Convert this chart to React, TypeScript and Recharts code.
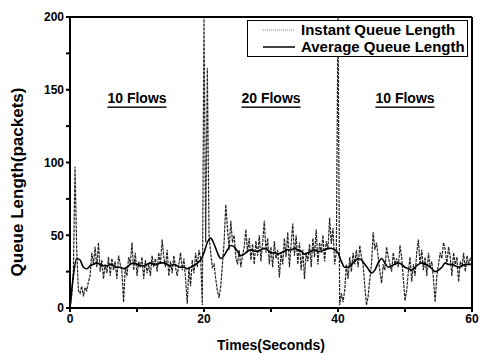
import React from 'react';
import { LineChart, Line, XAxis, YAxis, ReferenceLine, ReferenceDot } from 'recharts';

const INSTANT_STEP = 0.25;
const AVERAGE_STEP = 0.5;

const instantValues: number[] = [
  0, 8, 25, 97,
  40, 12, 10, 15,
  8, 14, 12, 18,
  22, 38, 30, 42,
  28, 45, 25, 33,
  20, 30, 24, 35,
  22, 34, 26, 32,
  20, 36, 30, 25,
  4, 28, 22, 35,
  30, 45, 26, 38,
  22, 32, 28, 35,
  20, 33, 24, 30,
  22, 36, 28, 34,
  25, 38, 30, 47,
  35, 28, 40, 22,
  32, 24, 36, 28,
  22, 30, 38, 26,
  34, 20, 3, 28,
  15, 33, 24, 38,
  28, 40, 34, 2,
  200, 45, 165, 50,
  38, 28, 30, 20,
  12, 7, 15, 30,
  45, 71, 55, 40,
  60, 45, 50, 35,
  30, 40, 28, 36,
  42, 54, 38, 48,
  33, 44, 30, 46,
  36, 50, 32, 45,
  60, 38, 48, 30,
  42, 28, 46, 34,
  40, 21, 38, 30,
  48, 35, 52, 28,
  44, 58, 36, 50,
  30, 45, 26, 40,
  20, 38, 32, 44,
  28, 48, 35, 54,
  30, 45, 38, 50,
  32, 46, 40, 62,
  44, 55, 30, 38,
  200, 2, 10, 4,
  12, 30, 20, 35,
  25, 38, 30, 40,
  28, 43, 35, 30,
  15, 2, 8, 20,
  30, 52, 40, 45,
  35, 25, 17, 30,
  26, 42, 35, 30,
  25, 38, 30, 34,
  28, 43, 35, 20,
  5, 12, 25, 35,
  18, 30, 22, 38,
  47, 30, 40, 26,
  35, 22, 38, 28,
  32, 20, 4, 22,
  30, 38, 34, 45,
  40, 30, 42, 35,
  22, 38, 30, 35,
  18, 32, 28, 38,
  25, 36, 30, 34,
  32,
];

const averageValues: number[] = [
  0, 22, 34, 33, 28, 27, 29, 30, 31, 30,
  29, 29, 30, 29, 28, 28, 27, 28, 30, 31,
  30, 29, 29, 30, 31, 30, 30, 31, 31, 30,
  29, 30, 29, 28, 28, 27, 28, 29, 31, 33,
  38, 45, 48, 44, 38, 34, 36, 40, 43, 42,
  39, 36, 37, 39, 40, 39, 39, 40, 41, 40,
  38, 38, 37, 38, 39, 40, 40, 41, 40, 39,
  37, 38, 39, 40, 39, 39, 40, 41, 41, 40,
  38, 32, 28, 28, 30, 32, 34, 33, 30, 27,
  24, 26, 31, 34, 31, 28, 29, 30, 31, 30,
  28, 27, 26, 28, 30, 31, 30, 29, 27, 25,
  26, 28, 31, 30, 30, 29, 28, 29, 30, 30,
  30,
];

const xTicks = [0, 10, 20, 30, 40, 50, 60];
const xTickLabels = ['0', '', '20', '', '40', '', '60'];
const yTicks = [0, 25, 50, 75, 100, 125, 150, 175, 200];
const yTickLabels = ['0', '', '50', '', '100', '', '150', '', '200'];

const annotations = [
  { t: 10, q: 144, text: '10 Flows' },
  { t: 30, q: 144, text: '20 Flows' },
  { t: 50, q: 144, text: '10 Flows' },
];

const seriesNames = ['Instant Queue Length', 'Average Queue Length'];
const xTitle = 'Times(Seconds)';
const yTitle = 'Queue Length(packets)';

const instantData = instantValues.map((v, i) => ({ t: i * INSTANT_STEP, q: v }));
const averageData = averageValues.map((v, i) => ({ t: i * AVERAGE_STEP, q: v }));

const FONT = '"Liberation Sans", Arial, sans-serif';

const FlowLabel = (props: any) => {
  const { viewBox, value } = props;
  const cx = viewBox.x + (viewBox.width || 0) / 2;
  const cy = viewBox.y + (viewBox.height || 0) / 2;
  return (
    <text
      x={cx}
      y={cy}
      textAnchor="middle"
      dominantBaseline="central"
      fontSize={14}
      fontWeight="bold"
      fill="#000"
      style={{ textDecoration: 'underline', fontFamily: FONT }}
    >
      {value}
    </text>
  );
};

const XTitle = (props: any) => {
  const { viewBox } = props;
  const cx = viewBox.x + viewBox.width / 2;
  return (
    <text x={cx} y={350} textAnchor="middle" fontSize={14} fontWeight="bold" fill="#000" style={{ fontFamily: FONT }}>
      {xTitle}
    </text>
  );
};

const YTitle = () => {
  const x = 23;
  const y = 182;
  return (
    <text
      x={x}
      y={y}
      transform={`rotate(-90 ${x} ${y})`}
      textAnchor="middle"
      fontSize={17}
      fontWeight="bold"
      fill="#000"
      style={{ fontFamily: FONT }}
    >
      {yTitle}
    </text>
  );
};

const LegendBox = () => (
  <div
    style={{
      position: 'absolute',
      left: 247,
      top: 20,
      width: 221,
      height: 37,
      border: '1px solid #000',
      boxSizing: 'border-box',
      background: '#fff',
      fontFamily: FONT,
      fontWeight: 'bold',
      fontSize: 15,
      color: '#000',
    }}
  >
    <svg width={40} height={37} style={{ position: 'absolute', left: 14, top: 0 }}>
      <line x1={1} x2={33} y1={9} y2={9} stroke="#888" strokeWidth={1} strokeDasharray="1 1" />
      <line x1={1} x2={33} y1={26} y2={26} stroke="#000" strokeWidth={1.5} />
    </svg>
    <div style={{ position: 'absolute', left: 53, top: 1, lineHeight: '16px', whiteSpace: 'nowrap' }}>
      {seriesNames[0]}
    </div>
    <div style={{ position: 'absolute', left: 53, top: 18, lineHeight: '16px', whiteSpace: 'nowrap' }}>
      {seriesNames[1]}
    </div>
  </div>
);

export default function App() {
  return (
    <div style={{ position: 'absolute', left: 0, top: 0, width: 479, height: 353, fontFamily: FONT, background: '#fff' }}>
      <LineChart
        width={479}
        height={353}
        margin={{ top: 17, right: 7, bottom: 5, left: 20 }}
      >
        <XAxis
          type="number"
          dataKey="t"
          domain={[0, 60]}
          ticks={xTicks}
          tickFormatter={(v: number) => xTickLabels[xTicks.indexOf(v)] ?? ''}
          allowDataOverflow
          height={40}
          stroke="#000"
          strokeWidth={2}
          tickSize={4}
          tickMargin={2}
          tick={{ fill: '#000', fontSize: 12, fontWeight: 'bold' }}
          label={<XTitle />}
        />
        <YAxis
          type="number"
          dataKey="q"
          domain={[0, 200]}
          ticks={yTicks}
          tickFormatter={(v: number) => yTickLabels[yTicks.indexOf(v)] ?? ''}
          allowDataOverflow
          width={50}
          stroke="#000"
          strokeWidth={2}
          tickSize={4}
          tickMargin={2}
          tick={{ fill: '#000', fontSize: 12, fontWeight: 'bold' }}
          label={<YTitle />}
        />
        <ReferenceLine y={200} stroke="#000" strokeWidth={2} ifOverflow="visible" />
        <ReferenceLine x={60} stroke="#000" strokeWidth={2} ifOverflow="visible" />
        <Line
          data={instantData}
          dataKey="q"
          type="linear"
          stroke="#222"
          strokeWidth={1.2}
          strokeDasharray="3 1"
          dot={false}
          isAnimationActive={false}
          name={seriesNames[0]}
        />
        <Line
          data={averageData}
          dataKey="q"
          type="monotone"
          stroke="#000"
          strokeWidth={1.6}
          dot={false}
          isAnimationActive={false}
          name={seriesNames[1]}
        />
        {annotations.map((a, i) => (
          <ReferenceDot
            key={i}
            x={a.t}
            y={a.q}
            r={0}
            fill="none"
            stroke="none"
            label={<FlowLabel value={a.text} />}
          />
        ))}
      </LineChart>
      <LegendBox />
    </div>
  );
}
